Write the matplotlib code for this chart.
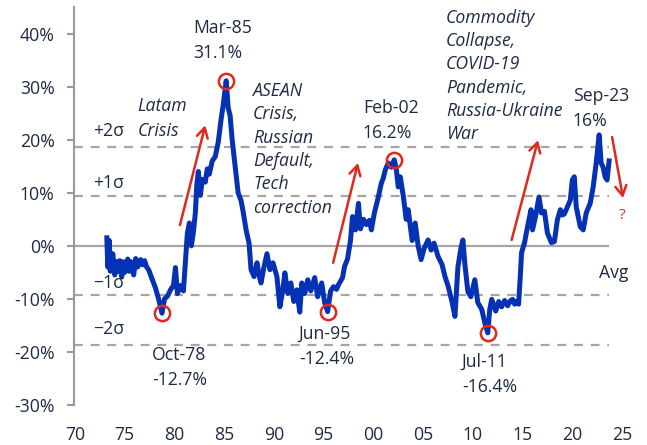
import matplotlib

matplotlib.use("Agg")
import matplotlib.pyplot as plt

plt.rcParams["font.family"] = ["Open Sans", "DejaVu Sans"]

# relative valuation vs. long-run average, % deviation
years = [
    1973.2, 1973.3, 1973.45, 1973.55, 1973.8, 1974.0, 1974.2, 1974.35, 1974.5, 1974.7,
    1974.85, 1975.0, 1975.3, 1975.45, 1975.6, 1975.9, 1976.1, 1976.3, 1976.6, 1976.8,
    1977.0, 1977.2, 1977.4, 1977.8, 1978.1, 1978.4, 1978.75, 1979.0, 1979.3, 1979.6,
    1979.9, 1980.1, 1980.3, 1980.6, 1980.9, 1981.1, 1981.3, 1981.5, 1981.7, 1981.9,
    1982.1, 1982.25, 1982.4, 1982.6, 1982.8, 1983.1, 1983.3, 1983.5, 1983.8, 1984.1,
    1984.4, 1984.7, 1984.9, 1985.2, 1985.4, 1985.6, 1985.8, 1986.1, 1986.4, 1986.7,
    1986.9, 1987.2, 1987.5, 1987.7, 1988.0, 1988.3, 1988.5, 1988.7, 1989.0, 1989.3,
    1989.6, 1989.9, 1990.3, 1990.6, 1990.9, 1991.1, 1991.4, 1991.7, 1992.0, 1992.3,
    1992.6, 1992.8, 1993.1, 1993.4, 1993.7, 1994.1, 1994.4, 1994.8, 1995.1, 1995.4,
    1995.7, 1996.0, 1996.3, 1996.5, 1996.9, 1997.1, 1997.4, 1997.7, 1997.9, 1998.2,
    1998.5, 1998.7, 1999.0, 1999.3, 1999.6, 1999.8, 2000.1, 2000.5, 2000.8, 2001.0,
    2001.2, 2001.5, 2001.8, 2002.1, 2002.3, 2002.5, 2002.7, 2003.0, 2003.3, 2003.5,
    2003.9, 2004.2, 2004.5, 2004.8, 2005.1, 2005.5, 2005.8, 2006.1, 2006.5, 2006.9,
    2007.2, 2007.5, 2007.9, 2008.2, 2008.5, 2008.8, 2009.0, 2009.2, 2009.5, 2009.8,
    2010.2, 2010.5, 2010.9, 2011.2, 2011.5, 2011.7, 2011.9, 2012.1, 2012.3, 2012.6,
    2012.9, 2013.2, 2013.5, 2013.75, 2014.0, 2014.2, 2014.4, 2014.6, 2014.75, 2014.9,
    2015.2, 2015.5, 2015.85, 2016.0, 2016.3, 2016.65, 2016.9, 2017.2, 2017.5, 2017.9,
    2018.2, 2018.5, 2018.8, 2019.0, 2019.2, 2019.5, 2019.8, 2020.0, 2020.2, 2020.4,
    2020.8, 2021.1, 2021.4, 2021.8, 2022.1, 2022.4, 2022.7, 2022.9, 2023.1, 2023.3,
    2023.5, 2023.7,
]
values = [
    1.5, -4.0, 1.0, -4.8, -1.5, -5.5, -3.0, -4.8, -2.8, -5.8,
    -3.0, -5.0, -2.5, -4.8, -3.0, -5.5, -2.4, -4.0, -2.6, -3.6,
    -2.8, -4.0, -4.5, -6.5, -8.0, -10.0, -12.7, -10.0, -9.5, -8.3,
    -7.5, -4.1, -9.0, -7.5, -8.5, -3.0, 2.4, 4.3, 0.0, 2.5,
    6.2, 11.5, 14.0, 9.5, 12.5, 12.0, 14.5, 13.5, 16.0, 16.8,
    19.5, 24.0, 26.5, 31.1, 26.0, 24.5, 20.0, 15.0, 10.0, 8.5,
    6.5, 3.0, 0.5, -4.5, -5.8, -3.2, -5.5, -7.0, -4.0, -1.5,
    -4.5, -3.2, -5.8, -11.5, -8.3, -5.1, -9.0, -7.0, -10.5, -8.3,
    -12.5, -7.0, -9.0, -6.4, -8.5, -6.0, -9.6, -7.0, -10.7, -12.4,
    -8.5, -7.7, -8.2, -7.3, -6.0, -3.9, -2.5, 1.0, 5.5, 3.0,
    8.0, 3.2, 5.0, 4.0, 4.8, 3.0, 6.2, 9.2, 11.8, 12.8,
    14.3, 15.6, 14.8, 16.2, 14.5, 11.1, 13.0, 9.5, 5.0, 6.8,
    1.0, 4.3, 0.0, -2.6, -0.5, 1.1, -0.8, 0.5, -2.0, -3.5,
    -5.8, -7.5, -10.5, -13.3, -4.0, -0.5, 1.1, -3.5, -8.6, -9.6,
    -6.4, -10.7, -12.0, -14.5, -16.4, -12.0, -10.1, -11.2, -12.3, -10.5,
    -11.5, -10.3, -11.3, -10.4, -10.1, -11.0, -10.5, -11.0, -6.4, -1.3,
    0.6, 3.6, 6.8, 3.0, 5.5, 9.2, 6.2, 6.5, 2.4, 0.6,
    0.8, 4.9, 6.8, 5.8, 6.0, 7.3, 8.6, 12.4, 13.0, 7.3,
    3.6, 3.0, 6.2, 8.0, 11.1, 15.6, 20.9, 15.6, 14.8, 13.0,
    12.4, 16.0,
]

avg = 0.0
sigma = 9.35

# highlighted peaks and troughs
event_names = ["Oct-78", "Mar-85", "Jun-95", "Feb-02", "Jul-11", "Sep-23"]
event_dates = [1978.75, 1985.2, 1995.4, 2002.1, 2011.5, 2023.7]
event_values = [-12.7, 31.1, -12.4, 16.2, -16.4, 16.0]
event_circled = [True, True, True, True, True, False]
event_label_pos = [
    (1977.75, -23.0), (1981.85, 38.7), (1992.5, -19.0),
    (1998.95, 23.7), (2008.9, -24.3), (2020.05, 25.8),
]

# trend arrows (start, end)
arrows = [
    ((1980.55, 3.9), (1983.1, 22.7)),
    ((1995.95, -3.2), (1998.45, 15.6)),
    ((2013.9, 1.1), (2016.55, 19.9)),
    ((2024.0, 20.5), (2025.1, 9.0)),
]

x_ticks = list(range(1970, 2030, 5))
y_ticks = [-30, -20, -10, 0, 10, 20, 30, 40]

BLUE = "#0532B4"
RED = "#E0281E"
GREY = "#A6A6A6"
TEXT = "#1E2B45"
FS = 12.7


def main() -> None:
    fig = plt.figure(figsize=(6.47, 4.45), dpi=100)
    ax = fig.add_axes([74 / 647, 40 / 445, 553 / 647, 398 / 445])
    ax.set_xlim(1969.9, 2025.5)
    ax.set_ylim(-30, 45)

    x_end = years[-1]
    ax.hlines(avg, 1969.9, x_end, color=GREY, lw=1.6, zorder=1)
    for k in (-2, -1, 1, 2):
        ax.hlines(avg + k * sigma, 1969.9, x_end, color=GREY, lw=1.6,
                  linestyles=(0, (4, 3.5)), zorder=1)

    ax.plot(years, values, color=BLUE, lw=3.6, solid_joinstyle="round", zorder=3)

    for name, d, v, circ, (lx, ly) in zip(event_names, event_dates, event_values,
                                           event_circled, event_label_pos):
        if circ:
            ax.plot(d, v, "o", ms=11, mfc="none", mec=RED, mew=1.8, zorder=4)
        ax.text(lx, ly, f"{name}\n{v:g}%", fontsize=FS, color=TEXT,
                ha="left", va="center", linespacing=1.5)

    for (x0, y0), (x1, y1) in arrows:
        ax.annotate("", xy=(x1, y1), xytext=(x0, y0),
                    arrowprops=dict(arrowstyle="->,head_length=0.7,head_width=0.4",
                                    color=RED, lw=1.8, shrinkA=0, shrinkB=0))
    ax.text(2025.0, 5.8, "?", color=RED, fontsize=11, ha="center", va="center")

    italic = dict(fontsize=FS, color=TEXT, style="italic", ha="left", va="center")
    ax.text(1976.3, 24.0, "Latam\nCrisis", linespacing=1.55, **italic)
    ax.text(1987.9, 18.2, "ASEAN\nCrisis,\nRussian\nDefault,\nTech\ncorrection",
            linespacing=1.38, **italic)
    ax.text(2007.3, 32.0,
            "Commodity\nCollapse,\nCOVID-19\nPandemic,\nRussia-Ukraine\nWar",
            linespacing=1.38, **italic)

    for label, yv in (("+2σ", 21.6), ("+1σ", 11.8), ("\u22121σ", -7.0), ("\u22122σ", -15.6)):
        ax.text(1971.8, yv, label, fontsize=FS, color=TEXT, ha="left", va="center")
    ax.text(2022.65, -5.1, "Avg", fontsize=FS, color=TEXT, ha="left", va="center")

    ax.set_xticks(x_ticks)
    ax.set_xticklabels([f"{t % 100:02d}" for t in x_ticks])
    ax.set_yticks(y_ticks)
    ax.set_yticklabels([f"{t}%" for t in y_ticks])
    ax.tick_params(axis="x", length=0, pad=15, labelsize=FS, labelcolor=TEXT)
    ax.tick_params(axis="y", length=5, width=1.5, color="#999999", pad=9,
                   labelsize=FS, labelcolor=TEXT)
    for side in ("top", "right", "bottom"):
        ax.spines[side].set_visible(False)
    ax.spines["left"].set_color("#999999")
    ax.spines["left"].set_linewidth(1.5)

    fig.savefig("out.png", dpi=100)
    plt.close(fig)


if __name__ == "__main__":
    main()
